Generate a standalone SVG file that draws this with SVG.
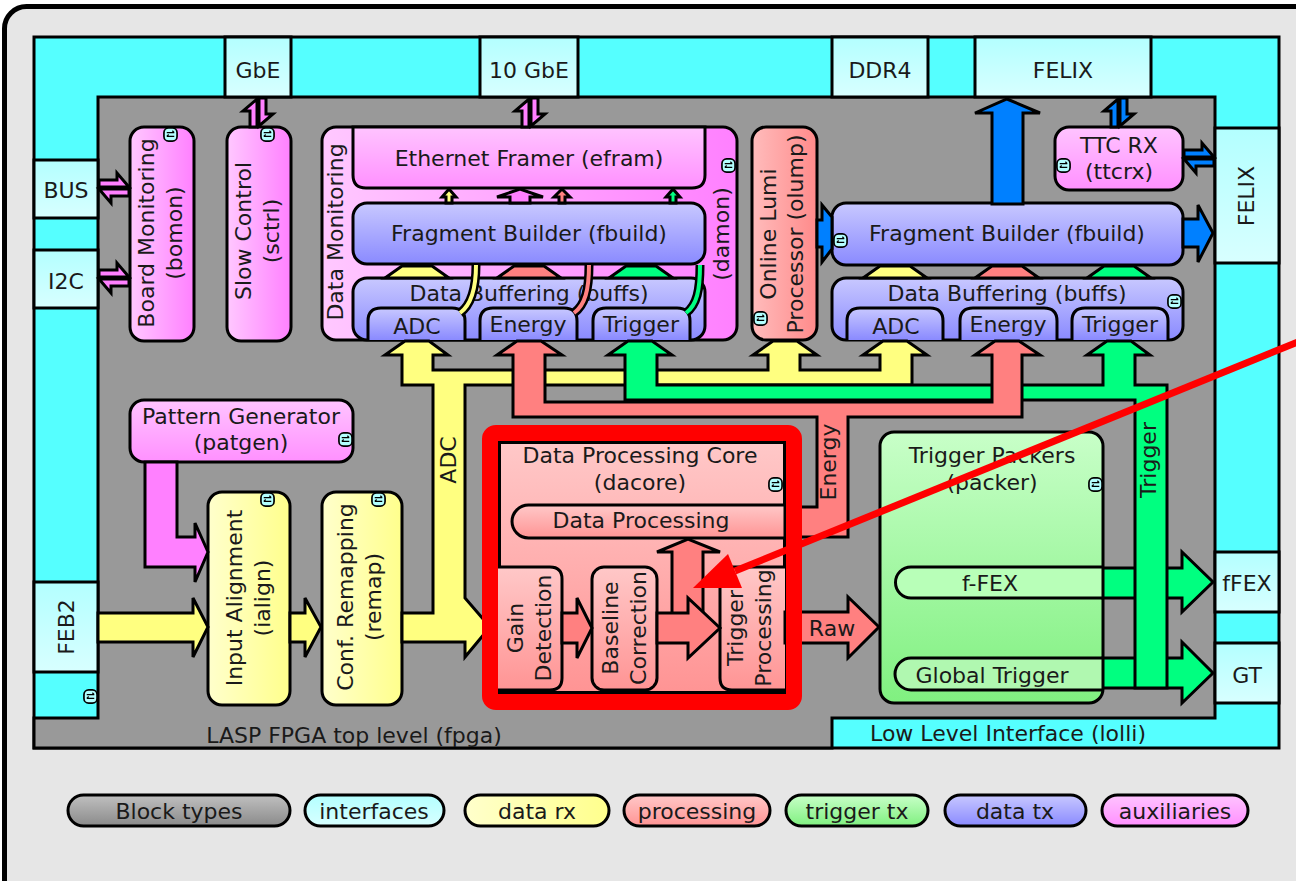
<svg xmlns="http://www.w3.org/2000/svg" width="1296" height="881" viewBox="0 0 1296 881">
<defs>
<style>
text{font-family:"DejaVu Sans","Liberation Sans",sans-serif;font-size:22px;fill:#1a1a1a;text-anchor:middle}
.b{stroke:#000;stroke-width:3}
.c{stroke:#000;stroke-width:3;stroke-linejoin:miter}
.ifc{fill:url(#gC);stroke:#000;stroke-width:3}
.y{fill:#ffff80}.s{fill:#ff8080}.g{fill:#00ff80}.bl{fill:#0080ff}.m{fill:#ff80ff}
.tk{fill:none;stroke:#000;stroke-width:9}
</style>
<linearGradient id="gC" x1="0" y1="0" x2="0" y2="1"><stop offset="0" stop-color="#b3ffff"/><stop offset="1" stop-color="#d8ffff"/></linearGradient>
<linearGradient id="gPH" x1="0" y1="0" x2="1" y2="0"><stop offset="0" stop-color="#ffc8ff"/><stop offset="1" stop-color="#ff80ff"/></linearGradient>
<linearGradient id="gPV" x1="0" y1="0" x2="0" y2="1"><stop offset="0" stop-color="#ffc4ff"/><stop offset="1" stop-color="#ff90ff"/></linearGradient>
<linearGradient id="gB" x1="0" y1="0" x2="0" y2="1"><stop offset="0" stop-color="#c8c8ff"/><stop offset="1" stop-color="#8a8aff"/></linearGradient>
<linearGradient id="gS" x1="0" y1="0" x2="0" y2="1"><stop offset="0" stop-color="#ffc8c8"/><stop offset="1" stop-color="#ff9494"/></linearGradient>
<linearGradient id="gSH" x1="0" y1="0" x2="1" y2="0"><stop offset="0" stop-color="#ffbcbc"/><stop offset="1" stop-color="#ff8a8a"/></linearGradient>
<linearGradient id="gY" x1="0" y1="0" x2="1" y2="0"><stop offset="0" stop-color="#ffffcc"/><stop offset="1" stop-color="#ffff8c"/></linearGradient>
<linearGradient id="gG" x1="0" y1="0" x2="0" y2="1"><stop offset="0" stop-color="#c8ffc8"/><stop offset="1" stop-color="#80f080"/></linearGradient>
<linearGradient id="gK" x1="0" y1="0" x2="0" y2="1"><stop offset="0" stop-color="#c0c0c0"/><stop offset="1" stop-color="#8a8a8a"/></linearGradient>
<symbol id="io" viewBox="0 0 16 16"><rect x="1" y="1" width="14" height="14" rx="5" fill="#b3ffff" stroke="#000" stroke-width="1.8"/><path d="M4 6H12M10 4L12 6M12 10H4M6 8L4 10" stroke="#000" stroke-width="1.2" fill="none"/></symbol>
</defs>

<rect x="0" y="0" width="1296" height="881" fill="#fff"/>
<g id="frame"><rect x="4.5" y="6.5" width="1320" height="900" rx="22" fill="#e6e6e6" stroke="#000" stroke-width="5"/></g>

<g id="lolli">
<rect x="34" y="37" width="1245" height="711" fill="#55ffff" class="b"/>
</g>
<g id="fpga">
<path d="M98,97 H1215 V718 H832 V748 H34 V718 H98 Z" fill="#999999" class="b"/>
<text x="354" y="743">LASP FPGA top level (fpga)</text>
</g>
<g id="lolli-label"><text x="1008" y="741">Low Level Interface (lolli)</text></g>

<g id="if-gbe"><rect x="225" y="37" width="66" height="60" class="ifc"/><text x="258" y="78">GbE</text></g>
<g id="if-10gbe"><rect x="480" y="37" width="98" height="60" class="ifc"/><text x="529" y="78">10 GbE</text></g>
<g id="if-ddr4"><rect x="832" y="37" width="96" height="60" class="ifc"/><text x="880" y="78">DDR4</text></g>
<g id="if-felix-top"><rect x="975" y="37" width="176" height="60" class="ifc"/><text x="1063" y="78">FELIX</text></g>
<g id="if-bus"><rect x="34" y="160" width="64" height="58" class="ifc"/><text x="66" y="198">BUS</text></g>
<g id="if-i2c"><rect x="34" y="250" width="64" height="58" class="ifc"/><text x="66" y="289">I2C</text></g>
<g id="if-feb2"><rect x="34" y="582" width="64" height="90" class="ifc"/><text transform="translate(74,627) rotate(-90)">FEB2</text><use href="#io" x="83" y="689" width="15" height="15"/></g>
<g id="if-felix-right"><rect x="1215" y="128" width="64" height="135" class="ifc"/><text transform="translate(1254,196) rotate(-90)">FELIX</text></g>
<g id="if-ffex"><rect x="1215" y="552" width="64" height="60" class="ifc"/><text x="1247" y="591">fFEX</text></g>
<g id="if-gt"><rect x="1215" y="643" width="64" height="60" class="ifc"/><text x="1247" y="683">GT</text></g>

<g id="bomon"><rect x="130" y="127" width="64" height="214" rx="14" fill="url(#gPH)" class="b"/>
<text transform="translate(154,233) rotate(-90)">Board Monitoring</text><text transform="translate(182,233) rotate(-90)">(bomon)</text>
<use href="#io" x="163" y="127" width="15" height="15"/></g>
<g id="sctrl"><rect x="227" y="127" width="64" height="214" rx="14" fill="url(#gPH)" class="b"/>
<text transform="translate(251,231) rotate(-90)">Slow Control</text><text transform="translate(279,231) rotate(-90)">(sctrl)</text>
<use href="#io" x="260" y="127" width="15" height="15"/></g>

<g id="damon"><rect x="322" y="127" width="415" height="213" rx="14" fill="url(#gPH)" class="b"/>
<text transform="translate(343,232) rotate(-90)">Data Monitoring</text><text transform="translate(729,234) rotate(-90)">(damon)</text>
<use href="#io" x="721" y="158" width="15" height="15"/>
<g id="efram"><path d="M353,127 H705 V175 Q705,188 692,188 H366 Q353,188 353,175 Z" fill="url(#gPV)" class="b"/><text x="529" y="166">Ethernet Framer (efram)</text></g>
<g id="fbuild-l"><rect x="353" y="203" width="352" height="61" rx="14" fill="url(#gB)" class="b"/><text x="529" y="241">Fragment Builder (fbuild)</text></g>
<g id="buffs-l"><rect x="353" y="278" width="352" height="62" rx="14" fill="url(#gB)" class="b"/><text x="529" y="301">Data Buffering (buffs)</text>
<path d="M368,340 V321 Q368,308 381,308 H452 Q465,308 465,321 V340" fill="url(#gB)" class="b"/><text x="417" y="334">ADC</text>
<path d="M480,340 V321 Q480,308 493,308 H564 Q577,308 577,321 V340" fill="url(#gB)" class="b"/><text x="528" y="332">Energy</text>
<path d="M593,340 V321 Q593,308 606,308 H677 Q690,308 690,321 V340" fill="url(#gB)" class="b"/><text x="641" y="332">Trigger</text></g>
</g>

<g id="olump"><rect x="752" y="127" width="65" height="213" rx="14" fill="url(#gSH)" class="b"/>
<text transform="translate(776,234) rotate(-90)">Online Lumi</text><text transform="translate(803,234) rotate(-90)">Processor (olump)</text>
<use href="#io" x="753" y="311" width="15" height="15"/></g>

<g id="ttcrx"><rect x="1055" y="127" width="128" height="63" rx="14" fill="url(#gPV)" class="b"/>
<text x="1119" y="153">TTC RX</text><text x="1119" y="179">(ttcrx)</text><use href="#io" x="1056" y="158" width="15" height="15"/></g>
<g id="fbuild-r"><rect x="832" y="203" width="351" height="62" rx="14" fill="url(#gB)" class="b"/><text x="1007" y="241">Fragment Builder (fbuild)</text><use href="#io" x="833" y="233" width="15" height="15"/></g>
<g id="buffs-r"><rect x="832" y="278" width="351" height="62" rx="14" fill="url(#gB)" class="b"/><text x="1007" y="301">Data Buffering (buffs)</text>
<path d="M847,340 V321 Q847,308 860,308 H930 Q943,308 943,321 V340" fill="url(#gB)" class="b"/><text x="896" y="334">ADC</text>
<path d="M960,340 V321 Q960,308 973,308 H1044 Q1057,308 1057,321 V340" fill="url(#gB)" class="b"/><text x="1008" y="332">Energy</text>
<path d="M1072,340 V321 Q1072,308 1085,308 H1155 Q1168,308 1168,321 V340" fill="url(#gB)" class="b"/><text x="1120" y="332">Trigger</text>
<use href="#io" x="1167" y="294" width="15" height="15"/></g>

<g id="patgen"><rect x="130" y="400" width="223" height="62" rx="14" fill="url(#gPV)" class="b"/>
<text x="241" y="424">Pattern Generator</text><text x="241" y="450">(patgen)</text><use href="#io" x="338" y="432" width="15" height="15"/></g>
<g id="ialign"><rect x="208" y="492" width="82" height="213" rx="14" fill="url(#gY)" class="b"/>
<text transform="translate(242,598) rotate(-90)">Input Alignment</text><text transform="translate(270,598) rotate(-90)">(ialign)</text><use href="#io" x="260" y="492" width="15" height="15"/></g>
<g id="remap"><rect x="322" y="492" width="80" height="213" rx="14" fill="url(#gY)" class="b"/>
<text transform="translate(353,597) rotate(-90)">Conf. Remapping</text><text transform="translate(381,597) rotate(-90)">(remap)</text><use href="#io" x="371" y="492" width="15" height="15"/></g>

<g id="dacore"><rect x="499.5" y="442.5" width="285" height="250" fill="url(#gS)" class="b"/>
<text x="640" y="463">Data Processing Core</text><text x="640" y="490">(dacore)</text><use href="#io" x="768" y="477" width="15" height="15"/>
<g id="dataproc"><path d="M785,505 H528.5 A16.5,16.5 0 0 0 528.5,538 H785" fill="url(#gS)" class="b"/><text x="641" y="528">Data Processing</text></g>
<g id="gain"><path d="M498,567 H550 Q562,567 562,579 V678 Q562,690 550,690 H498" fill="url(#gS)" class="b"/>
<text transform="translate(523,628) rotate(-90)">Gain</text><text transform="translate(551,628) rotate(-90)">Detection</text></g>
<g id="baseline"><rect x="592" y="567" width="65" height="123" rx="12" fill="url(#gS)" class="b"/>
<text transform="translate(618,628) rotate(-90)">Baseline</text><text transform="translate(646,628) rotate(-90)">Correction</text></g>
<g id="trigproc"><path d="M785,567 H732 Q720,567 720,579 V678 Q720,690 732,690 H785" fill="url(#gS)" class="b"/>
<text transform="translate(743,628) rotate(-90)">Trigger</text><text transform="translate(771,628) rotate(-90)">Processing</text></g>
</g>

<g id="packer"><rect x="880" y="432" width="223" height="271" rx="14" fill="url(#gG)" class="b"/>
<text x="992" y="463">Trigger Packers</text><text x="992" y="490">(packer)</text><use href="#io" x="1088" y="477" width="15" height="15"/>
<g id="ffex-pill"><path d="M1103,567 H911 A15.5,15.5 0 0 0 911,598 H1103" fill="#b8ffb8" class="b"/><text x="990" y="591">f-FEX</text></g>
<g id="gt-pill"><path d="M1103,658 H911 A16,16 0 0 0 911,690 H1103" fill="#b0f8b0" class="b"/><text x="992" y="683">Global Trigger</text></g>
</g>

<g id="connectors">
<polygon class="c m" points="145,462 177,462 177,537 195,537 195,523 208,552 195,582 195,567 145,567"/>
<polygon class="c y" points="98,613 193,613 193,598 208,627 193,657 193,642 98,642"/>
<polygon class="c y" points="290,613 305,613 305,598 321,627 305,657 305,642 290,642"/>
<polygon class="c y" points="402,355 385,355 405,341 429,341 448,355 433,355 433,370 768,370 768,355 753,355 773,341 797,341 817,355 800,355 800,370 880,370 880,355 863,355 883,341 907,341 927,355 912,355 912,385 465,385 465,598 490,627 465,657 465,642 402,642 402,613 433,613 433,385 402,385"/>
<polygon class="c g" points="1103,568 1182,568 1182,552 1213,582 1182,612 1182,598 1103,598"/>
<polygon class="c g" points="1103,658 1182,658 1182,642 1213,673 1182,703 1182,688 1103,688"/>
<polygon class="c g" points="625,355 608,355 628,341 652,341 672,355 657,355 657,385 1103,385 1103,355 1087,355 1107,341 1131,341 1150,355 1135,355 1135,385 1167,385 1167,688 1135,688 1135,400 625,400"/>
<polygon class="c s" points="513,355 497,355 517,341 541,341 562,355 545,355 545,402 992,402 992,355 975,355 995,341 1019,341 1040,355 1022,355 1022,417 848,417 848,537 785,537 785,507 817,507 817,417 513,417"/>
<text transform="translate(456,460) rotate(-90)">ADC</text>
<text transform="translate(836,462) rotate(-90)">Energy</text>
<text transform="translate(1156,460) rotate(-90)">Trigger</text>

<polygon class="c y" points="385,278 402,266 432,266 449,278"/>
<polygon class="c s" points="497,278 514,266 544,266 561,278"/>
<polygon class="c g" points="609,278 626,266 656,266 673,278"/>
<polygon class="c y" points="863,278 880,266 910,266 927,278"/>
<polygon class="c s" points="975,278 992,266 1022,266 1039,278"/>
<polygon class="c g" points="1087,278 1104,266 1134,266 1151,278"/>

<polygon class="c y" stroke-width="2" points="446,203 446,197 442,197 449,189 456,197 452,197 452,203"/>
<polygon class="c m" stroke-width="2" points="510,203 510,197 497,197 520,189 543,197 530,197 530,203"/>
<polygon class="c s" stroke-width="2" points="559,203 559,197 554,197 562,189 570,197 565,197 565,203"/>
<polygon class="c g" stroke-width="2" points="670,203 670,197 666,197 673,189 680,197 676,197 676,203"/>

<path class="tk" d="M460,313 C471,305 476,290 476,265"/><path d="M460,313 C471,305 476,290 476,265" fill="none" stroke="#ffff80" stroke-width="4"/>
<path class="tk" d="M574,313 C585,305 589,290 589,265"/><path d="M574,313 C585,305 589,290 589,265" fill="none" stroke="#ff8080" stroke-width="4"/>
<path class="tk" d="M686,313 C697,305 700,290 700,265"/><path d="M686,313 C697,305 700,290 700,265" fill="none" stroke="#00ff80" stroke-width="4"/>

<polygon class="c bl" points="992,204 992,113 975,113 1007,99 1040,113 1023,113 1023,204"/>
<polygon class="c bl" points="1183,219 1198,219 1198,205 1213,233 1198,262 1198,247 1183,247"/>
<polygon class="c bl" points="817,220 822,220 822,205 832,217 832,249 822,262 822,247 817,247"/>

<g stroke-width="2">
<polygon class="c m" points="257,99 257,127 250,127 250,111 243,111"/>
<polygon class="c m" points="259,126 259,98 266,98 266,114 273,114"/>
<polygon class="c m" points="529,99 529,127 522,127 522,111 515,111"/>
<polygon class="c m" points="531,126 531,98 538,98 538,114 545,114"/>
<polygon class="c bl" points="1118,99 1118,127 1111,127 1111,111 1104,111"/>
<polygon class="c bl" points="1120,126 1120,98 1127,98 1127,114 1134,114"/>
<polygon class="c m" points="129,187 99,187 99,180 117,180 117,173"/>
<polygon class="c m" points="99,189 129,189 129,196 111,196 111,203"/>
<polygon class="c m" points="129,277 99,277 99,270 117,270 117,263"/>
<polygon class="c m" points="99,279 129,279 129,286 111,286 111,293"/>
<polygon class="c bl" points="1214,157 1184,157 1184,150 1202,150 1202,143"/>
<polygon class="c bl" points="1184,159 1214,159 1214,166 1196,166 1196,173"/>
</g>

<polygon class="c s" points="562,613 577,613 577,598 592,628 577,658 577,643 562,643"/>
<polygon class="c s" points="672,620 672,552 657,552 688,539 720,552 703,552 703,620"/>
<polygon class="c s" points="657,613 688,613 688,598 720,628 688,658 688,643 657,643"/>
<polygon class="c s" points="785,612 848,612 848,597 879,627 848,658 848,643 785,643"/>
<text x="832" y="636">Raw</text>
</g>

<g id="annotation">
<rect x="490" y="433" width="304" height="269" rx="6" fill="none" stroke="#ff0000" stroke-width="16"/>
<line x1="1310" y1="337" x2="735" y2="571" stroke="#ff0000" stroke-width="7"/>
<polygon points="693,588 728,554 742,588" fill="#ff0000"/>
</g>

<g id="legend">
<g id="lg-block"><rect x="68" y="795" width="222" height="31" rx="15.5" fill="url(#gK)" class="b"/><text x="179" y="819">Block types</text></g>
<g id="lg-if"><rect x="305" y="795" width="139" height="31" rx="15.5" fill="url(#gC)" class="b"/><text x="374" y="819">interfaces</text></g>
<g id="lg-rx"><rect x="465" y="795" width="144" height="31" rx="15.5" fill="url(#gY)" class="b"/><text x="537" y="819">data rx</text></g>
<g id="lg-proc"><rect x="624" y="795" width="146" height="31" rx="15.5" fill="url(#gS)" class="b"/><text x="697" y="819">processing</text></g>
<g id="lg-trig"><rect x="786" y="795" width="142" height="31" rx="15.5" fill="url(#gG)" class="b"/><text x="857" y="819">trigger tx</text></g>
<g id="lg-tx"><rect x="945" y="795" width="141" height="31" rx="15.5" fill="url(#gB)" class="b"/><text x="1015" y="819">data tx</text></g>
<g id="lg-aux"><rect x="1102" y="795" width="146" height="31" rx="15.5" fill="url(#gPV)" class="b"/><text x="1175" y="819">auxiliaries</text></g>
</g>
</svg>
